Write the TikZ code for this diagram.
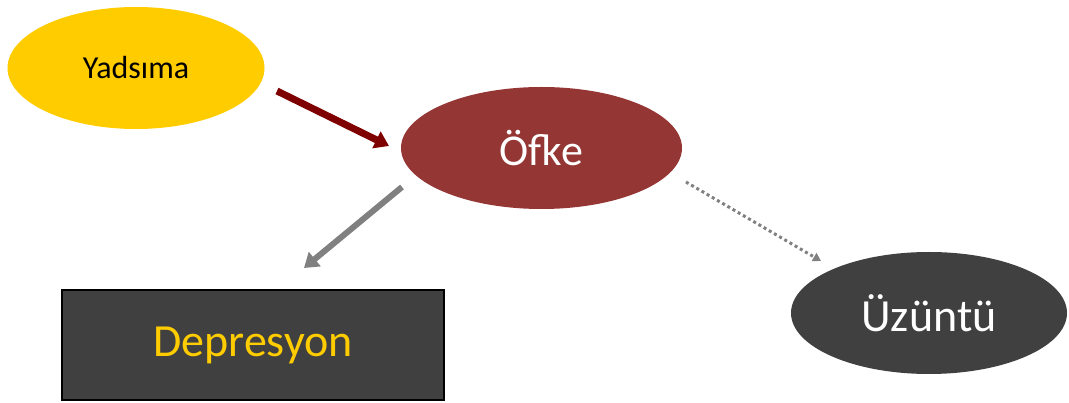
\documentclass[tikz,border=0pt]{standalone}
\usepackage{fontspec}
\setmainfont{Carlito}
\usetikzlibrary{shapes.geometric,arrows.meta}
\definecolor{gold}{HTML}{FFCC00}
\definecolor{brick}{HTML}{943634}
\definecolor{charcoal}{HTML}{404040}
\definecolor{maroon}{HTML}{7F0000}
\definecolor{midgray}{HTML}{808080}
\tikzset{
  oval/.style={ellipse, inner sep=0pt, draw=none},
  conn/.style={line width=6pt, -{Triangle[length=14pt,width=18pt]}},
}
\begin{document}
\begin{tikzpicture}[x=1pt,y=-1pt]
\useasboundingbox (0,0) rectangle (1069,403);
% nodes
\node[oval, fill=gold, minimum width=257pt, minimum height=122pt, font=\fontsize{32}{38}\selectfont] (yad) at (136,68) {Yadsıma};
\node[oval, fill=brick, text=white, minimum width=281pt, minimum height=122pt, font=\fontsize{44}{50}\selectfont] (ofke) at (541.5,148) {Öfke};
\node[oval, fill=charcoal, text=white, minimum width=276pt, minimum height=122pt, font=\fontsize{46}{52}\selectfont] (uzu) at (929,313) {Üzüntü};
\node[draw=black, line width=2pt, fill=charcoal, text=gold, minimum width=382pt, minimum height=110pt, inner sep=0pt, font=\fontsize{46}{52}\selectfont] (dep) at (253,345) {Depresyon};
% connector end points
\coordinate (a1) at (277,91);
\coordinate (a2) at (389,146);
\coordinate (b1) at (402,187);
\coordinate (b2) at (304,268);
\coordinate (c1) at (686,182);
\coordinate (c2) at (821,261);
% connectors
\draw[conn, maroon, line width=7pt] (a1) -- (a2);
\draw[conn, midgray] (b1) -- (b2);
\draw[midgray, line width=3pt, dash pattern=on 3pt off 3pt, -{Triangle[length=8pt,width=9pt]}] (c1) -- (c2);
\end{tikzpicture}
\end{document}
